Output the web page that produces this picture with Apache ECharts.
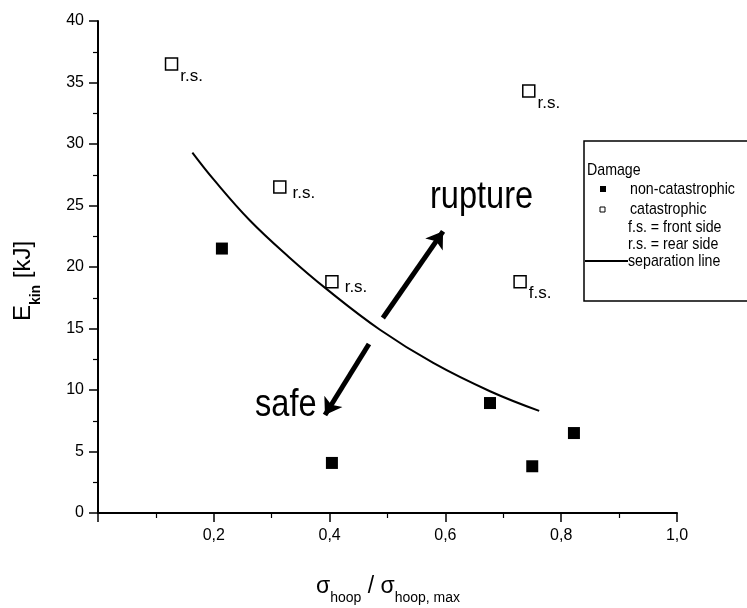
<!DOCTYPE html>
<html>
<head>
<meta charset="utf-8">
<script src="https://cdn.jsdelivr.net/npm/echarts@6/dist/echarts.min.js"></script>
<style>
  html, body { margin: 0; padding: 0; background: #fff; }
  #chart { width: 747px; height: 608px; }
</style>
</head>
<body>
<div id="chart"></div>
<script>
// values
const nonCatastrophic = [[0.214, 21.5], [0.404, 4.07], [0.677, 8.94], [0.750, 3.8], [0.822, 6.5]];
const catastrophic = [[0.127, 36.5], [0.314, 26.5], [0.404, 18.8], [0.744, 34.3], [0.729, 18.8]];
const catastrophicSide = ["r.s.", "r.s.", "r.s.", "r.s.", "f.s."];
const separationLine = [[0.163, 29.3], [0.2, 27.1], [0.262, 23.8], [0.33, 20.8], [0.395, 18.2], [0.487, 14.9], [0.579, 12.2], [0.677, 9.9], [0.762, 8.3]];
const ruptureArrow = [[0.492, 15.85], [0.596, 22.9]];
const safeArrow = [[0.468, 13.74], [0.392, 7.97]];
const xTicks = [0, 0.2, 0.4, 0.6, 0.8, 1.0];
const yTicks = [0, 5, 10, 15, 20, 25, 30, 35, 40];

// the scan uses a narrow face; none is installed, so text drawn as graphics gets squeezed
const SANS = "'Liberation Sans', Arial, sans-serif";
const SQUEEZE = 0.835;

const chart = echarts.init(document.getElementById("chart"), null, { renderer: "canvas" });

// tags that sit as a subscript under the square in the original
const lowTag = [true, false, false, true, true];

const axisCommon = {
  axisLine: { lineStyle: { color: "#000", width: 2 } },
  axisTick: { show: true, length: 9, lineStyle: { color: "#000", width: 1.5 } },
  minorTick: { show: true, splitNumber: 2, length: 5, lineStyle: { color: "#000", width: 1.2 } },
  splitLine: { show: false },
  axisLabel: { color: "#000", fontFamily: SANS, fontSize: 16 },
};

function narrowText(x, y, text, fontSize, extra) {
  return {
    type: "text",
    x: x,
    y: y,
    scaleX: SQUEEZE,
    style: Object.assign({ text: text, fontFamily: SANS, fontSize: fontSize, fill: "#000" }, extra || {}),
  };
}

chart.setOption({
  animation: false,
  backgroundColor: "#fff",
  grid: { left: 98, right: 70, top: 21, bottom: 95 },
  xAxis: {
    type: "value",
    min: xTicks[0],
    max: xTicks[xTicks.length - 1],
    interval: 0.2,
    ...axisCommon,
    axisLabel: {
      ...axisCommon.axisLabel,
      margin: 15,
      formatter: (v) => (v === 0 ? "" : v.toFixed(1).replace(".", ",")),
    },
  },
  yAxis: {
    type: "value",
    min: yTicks[0],
    max: yTicks[yTicks.length - 1],
    interval: 5,
    ...axisCommon,
    axisLabel: { ...axisCommon.axisLabel, margin: 14 },
  },
  series: [
    {
      name: "separation line",
      type: "line",
      data: separationLine,
      smooth: 0.4,
      showSymbol: false,
      lineStyle: { color: "#000", width: 2 },
      z: 2,
    },
    {
      name: "non-catastrophic",
      type: "scatter",
      data: nonCatastrophic,
      symbol: "rect",
      symbolSize: 12,
      itemStyle: { color: "#000", opacity: 1 },
      z: 3,
    },
    {
      name: "catastrophic",
      type: "scatter",
      data: catastrophic.map((p, i) => ({
        value: p,
        label: {
          formatter: catastrophicSide[i],
          offset: lowTag[i] ? [0, 12] : [4, 6],
        },
      })),
      symbol: "rect",
      symbolSize: 12,
      itemStyle: { color: "#fff", borderColor: "#000", borderWidth: 1.5, opacity: 1 },
      label: {
        show: true,
        position: "right",
        distance: 2,
        color: "#000",
        fontFamily: SANS,
        fontSize: 17,
      },
      z: 3,
    },
    {
      type: "lines",
      coordinateSystem: "cartesian2d",
      data: [{ coords: ruptureArrow }, { coords: safeArrow }],
      symbol: ["none", "arrow"],
      symbolSize: [0, 16],
      lineStyle: { color: "#000", width: 5, opacity: 1 },
      z: 4,
    },
  ],
  graphic: [
    narrowText(430, 178, "rupture", 39, { verticalAlign: "top" }),
    narrowText(255, 386, "safe", 39, { verticalAlign: "top" }),
    // x axis title
    {
      type: "text",
      x: 388,
      y: 590,
      style: {
        text: "{m|σ}{s|hoop}{m| / σ}{s|hoop, max}",
        align: "center",
        verticalAlign: "middle",
        fill: "#000",
        rich: {
          m: { fontFamily: SANS, fontSize: 23, lineHeight: 24, verticalAlign: "top" },
          s: { fontFamily: SANS, fontSize: 14, lineHeight: 30, verticalAlign: "bottom" },
        },
      },
    },
    // y axis title
    {
      type: "text",
      x: 27,
      y: 281,
      rotation: Math.PI / 2,
      style: {
        text: "{m|E}{s|kin}{m| [kJ]}",
        align: "center",
        verticalAlign: "middle",
        fill: "#000",
        rich: {
          m: { fontFamily: SANS, fontSize: 24, lineHeight: 24, verticalAlign: "top" },
          s: { fontFamily: SANS, fontSize: 14, fontWeight: "bold", lineHeight: 32, verticalAlign: "bottom" },
        },
      },
    },
    // legend box
    {
      type: "group",
      x: 584,
      y: 141,
      children: [
        {
          type: "rect",
          shape: { x: 0, y: 0, width: 200, height: 160 },
          style: { fill: "#fff", stroke: "#000", lineWidth: 1.5 },
        },
        narrowText(3, 29, "Damage", 17, { verticalAlign: "middle" }),
        { type: "rect", shape: { x: 16, y: 45, width: 6, height: 6 }, style: { fill: "#000" } },
        narrowText(46, 48, "non-catastrophic", 17, { verticalAlign: "middle" }),
        { type: "rect", shape: { x: 16, y: 66, width: 5, height: 5 }, style: { fill: "#fff", stroke: "#000", lineWidth: 1 } },
        narrowText(46, 68, "catastrophic", 17, { verticalAlign: "middle" }),
        narrowText(44, 86, "f.s. = front side", 17, { verticalAlign: "middle" }),
        narrowText(44, 103, "r.s. = rear side", 17, { verticalAlign: "middle" }),
        { type: "line", shape: { x1: 1, y1: 120, x2: 44, y2: 120 }, style: { stroke: "#000", lineWidth: 2 } },
        narrowText(44, 120, "separation line", 17, { verticalAlign: "middle" }),
      ],
    },
  ],
});
</script>
</body>
</html>
